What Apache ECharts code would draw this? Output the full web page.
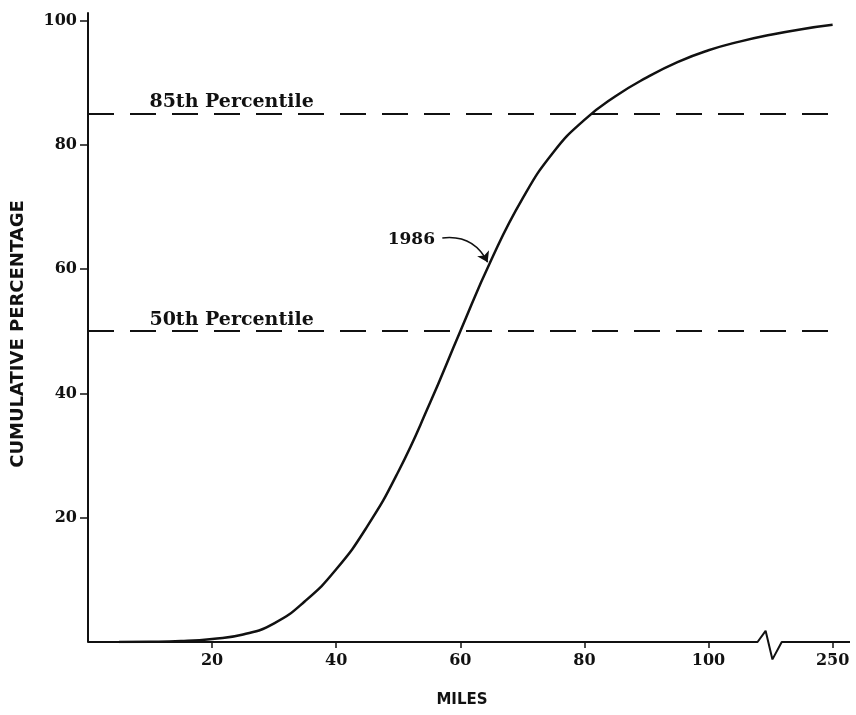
<!DOCTYPE html>
<html>
<head>
<meta charset="utf-8">
<script src="https://cdn.jsdelivr.net/npm/echarts@6/dist/echarts.min.js"></script>
<style>html,body{margin:0;padding:0;background:#fff}#c{width:856px;height:715px}</style>
</head>
<body>
<div id="c"></div>
<script>
// Cumulative speed distribution, 1986 (x = miles, y = cumulative percentage)
var milesX = [5, 10, 15, 20, 25, 30, 35, 40, 45, 50, 55, 60, 65, 70, 75, 80, 85, 90, 95, 100, 105, 110, 115, 120];
var cumPct = [0, 0.03, 0.15, 0.5, 1.2, 3.0, 6.6, 11.7, 18.6, 27.4, 38.2, 50, 61.5, 71.3, 78.8, 84.0, 87.8, 90.8, 93.3, 95.2, 96.6, 97.7, 98.6, 99.3];

var xTickValues = [20, 40, 60, 80, 100, 120];
var xTickLabels = ['20', '40', '60', '80', '100', '250'];
var yTickValues = [20, 40, 60, 80, 100];

var percentileValues = [85, 50];
var percentileNames = ['85th Percentile', '50th Percentile'];
var percentileLabelPos = [[9.9, 86.8], [9.9, 51.8]];

var seriesLabel = '1986';
var seriesLabelPos = [48.3, 64.7];
var arrowFrom = [57.1, 65.0];
var arrowTo = [64.4, 61.1];

// x axis base line with break symbol (axis coordinates)
var axisBreakPath = [[0, 0], [107.9, 0], [109.2, 1.8], [110.3, -2.8], [111.8, 0], [122.8, 0]];

var INK = '#111';
var chart = echarts.init(document.getElementById('c'), null, {renderer: 'canvas'});

var curve = milesX.map(function (m, i) { return [m, cumPct[i]]; });

var textBase = {fontFamily: 'DejaVu Serif', fontWeight: 'bold', color: INK, opacity: 1};

chart.setOption({
  animation: false,
  backgroundColor: '#fff',
  grid: {left: 88, right: 6, top: 13, bottom: 73, containLabel: false},
  xAxis: {
    type: 'value', min: 0, max: 122.8,
    name: 'MILES', nameLocation: 'middle', nameGap: 51,
    nameTextStyle: {fontFamily: 'DejaVu Sans', fontWeight: 'bold', fontSize: 15, color: INK, padding: [0, 14, 0, 0]},
    axisLine: {show: false},
    axisTick: {show: true, length: 6, inside: false, customValues: xTickValues, lineStyle: {color: INK, width: 1.5}},
    axisLabel: {
      show: true, margin: 11, customValues: xTickValues,
      fontFamily: 'DejaVu Serif', fontWeight: 'bold', fontSize: 16, color: INK,
      formatter: function (v) { var i = xTickValues.indexOf(v); return i >= 0 ? xTickLabels[i] : ''; }
    },
    splitLine: {show: false}
  },
  yAxis: {
    type: 'value', min: 0, max: 101.2,
    name: 'CUMULATIVE PERCENTAGE', nameLocation: 'middle', nameGap: 61, nameRotate: 90,
    nameTextStyle: {fontFamily: 'DejaVu Sans', fontWeight: 'bold', fontSize: 18, color: INK, padding: [0, 13, 0, 0]},
    axisLine: {show: true, lineStyle: {color: INK, width: 2}},
    axisTick: {show: true, length: 8, inside: false, customValues: yTickValues, lineStyle: {color: INK, width: 1.5}},
    axisLabel: {
      show: true, margin: 11, customValues: yTickValues,
      fontFamily: 'DejaVu Serif', fontWeight: 'bold', fontSize: 16, color: INK
    },
    splitLine: {show: false}
  },
  series: [
    {
      type: 'line', silent: true, clip: false, symbol: 'none', z: 1,
      data: axisBreakPath,
      lineStyle: {color: INK, width: 2}
    },
    {
      type: 'line', silent: true, symbol: 'none', z: 2,
      data: [],
      markLine: {
        silent: true, symbol: 'none', animation: false,
        label: {show: false},
        lineStyle: {color: INK, width: 2, type: [26, 16]},
        data: percentileValues.map(function (v) {
          return [{coord: [0, v]}, {coord: [120.4, v]}];
        })
      }
    },
    {
      type: 'line', name: seriesLabel, silent: true, symbol: 'none', smooth: 0.5, z: 3,
      data: curve,
      lineStyle: {color: INK, width: 2.5}
    },
    {
      type: 'lines', coordinateSystem: 'cartesian2d', silent: true, z: 5,
      symbol: ['none', 'arrow'], symbolSize: 10,
      lineStyle: {color: INK, width: 1.6, curveness: 0.35, opacity: 1},
      data: [{coords: [arrowFrom, arrowTo]}]
    },
    {
      type: 'scatter', silent: true, symbolSize: 0, z: 4,
      itemStyle: {color: INK, opacity: 1},
      data: percentileNames.map(function (n, i) {
        return {name: n, value: percentileLabelPos[i], label: Object.assign({fontSize: 19}, textBase)};
      }).concat([{name: seriesLabel, value: seriesLabelPos, label: Object.assign({fontSize: 17}, textBase)}]),
      label: Object.assign({show: true, position: 'right', distance: 0, formatter: '{b}', fontSize: 17}, textBase)
    }
  ]
});
</script>
</body>
</html>
